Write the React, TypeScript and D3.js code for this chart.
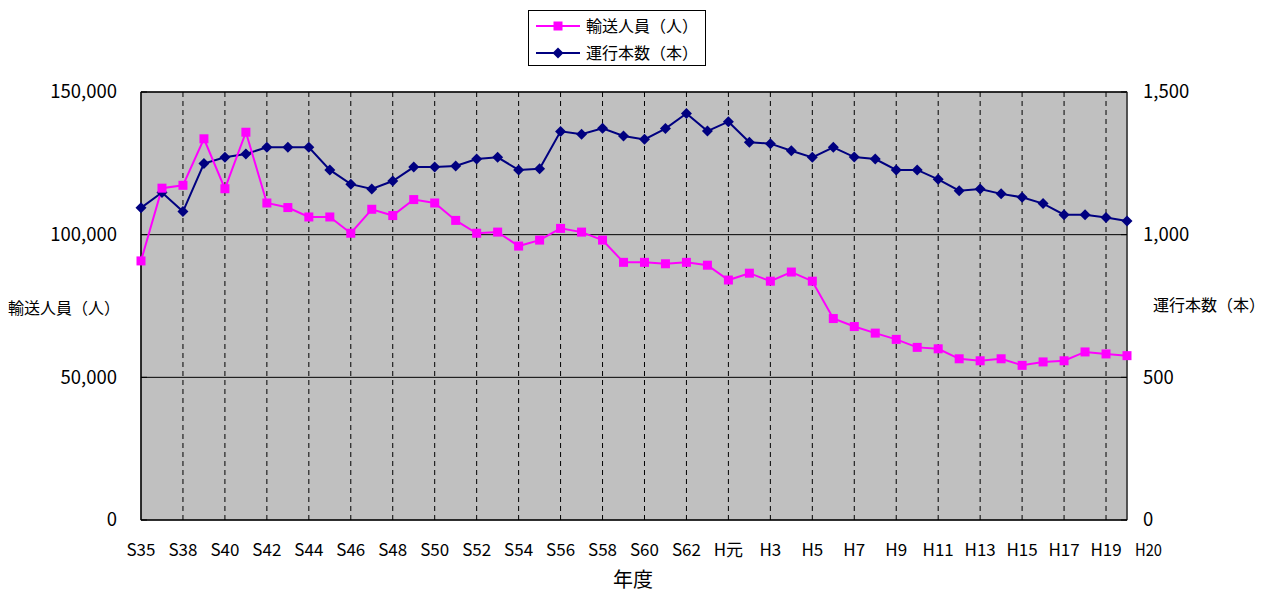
import React from 'react';
import * as d3 from 'd3';

// categories (fiscal years, Showa -> Heisei)
const years = [
  'S35', 'S37', 'S38', 'S39', 'S40', 'S41', 'S42', 'S43', 'S44', 'S45',
  'S46', 'S47', 'S48', 'S49', 'S50', 'S51', 'S52', 'S53', 'S54', 'S55',
  'S56', 'S57', 'S58', 'S59', 'S60', 'S61', 'S62', 'S63', 'H元', 'H2',
  'H3', 'H4', 'H5', 'H6', 'H7', 'H8', 'H9', 'H10', 'H11', 'H12',
  'H13', 'H14', 'H15', 'H16', 'H17', 'H18', 'H19', 'H20',
];

// 輸送人員(人) - left axis
const passengers = [
  90800, 116300, 117300, 133600, 116100, 135900, 111100, 109500, 106200, 106200,
  100500, 108900, 106700, 112300, 111100, 105000, 100500, 100900, 96000, 98100,
  102200, 100900, 98100, 90300, 90300, 89800, 90300, 89300, 84100, 86500,
  83700, 86900, 83700, 70600, 67800, 65500, 63300, 60500, 60000, 56500,
  55800, 56500, 54200, 55400, 55800, 58900, 58200, 57600,
];

// 運行本数(本) - right axis
const trains = [
  1094, 1148, 1081, 1249, 1271, 1283, 1306, 1306, 1306, 1227,
  1177, 1160, 1188, 1237, 1237, 1241, 1265, 1271, 1227, 1231,
  1362, 1352, 1373, 1346, 1334, 1372, 1425, 1363, 1396, 1324,
  1319, 1294, 1271, 1306, 1272, 1265, 1227, 1227, 1194, 1154,
  1160, 1143, 1131, 1109, 1070, 1070, 1060, 1048,
];

const leftTicks = [0, 50000, 100000, 150000];
const rightTicks = [0, 500, 1000, 1500];
const gridTicks = [50000, 100000];

const W = 1275, H = 594;
const plotL = 141, plotR = 1127, plotT = 92, plotB = 520;

const PINK = '#FF00FF';
const NAVY = '#000080';
const BG = '#C0C0C0';
const FONT = '"Noto Sans CJK JP", "Liberation Sans", sans-serif';

const fmt = d3.format(',');

export default function App() {
  const x = d3.scalePoint<string>().domain(years).range([plotL, plotR]);
  const yL = d3.scaleLinear().domain([0, 150000]).range([plotB, plotT]);
  const yR = d3.scaleLinear().domain([0, 1500]).range([plotB, plotT]);

  const linePass = d3.line<number>()
    .x((_, i) => x(years[i])!)
    .y(d => yL(d));
  const lineTrain = d3.line<number>()
    .x((_, i) => x(years[i])!)
    .y(d => yR(d));

  const diamond = (cx: number, cy: number, r: number) =>
    `M${cx},${cy - r}L${cx + r},${cy}L${cx},${cy + r}L${cx - r},${cy}Z`;

  const labelIdx = years.map((_, i) => i).filter(i => i % 2 === 0);
  const lastIdx = years.length - 1;

  return (
    <svg width={W} height={H} style={{ position: 'absolute', left: 0, top: 0, background: '#fff' }}
      fontFamily={FONT}>
      {/* plot background */}
      <rect x={plotL} y={plotT} width={plotR - plotL} height={plotB - plotT} fill={BG} stroke="#808080" />

      {/* vertical dashed grid */}
      {labelIdx.filter(i => i > 0).map(i => (
        <line key={'v' + i} x1={x(years[i])} x2={x(years[i])} y1={plotT} y2={plotB}
          stroke="#000" strokeWidth={1} strokeDasharray="5,4" />
      ))}

      {/* horizontal grid */}
      {gridTicks.map(t => (
        <line key={'h' + t} x1={plotL} x2={plotR} y1={yL(t)} y2={yL(t)} stroke="#000" strokeWidth={1} />
      ))}
      <line x1={plotL} x2={plotR} y1={plotT} y2={plotT} stroke="#000" strokeWidth={1.5} />

      {/* axes */}
      <line x1={plotL} x2={plotL} y1={plotT} y2={plotB} stroke="#000" strokeWidth={1.5} />
      <line x1={plotR} x2={plotR} y1={plotT} y2={plotB} stroke="#333" strokeWidth={1.5} />
      <line x1={plotL} x2={plotR} y1={plotB} y2={plotB} stroke="#000" strokeWidth={1.5} />
      {leftTicks.map(t => (
        <g key={'lt' + t}>
          <line x1={plotL} x2={plotL + 6} y1={yL(t)} y2={yL(t)} stroke="#000" />
          <text x={117} y={yL(t)} dy="0.35em" textAnchor="end" fontSize={18.5}>{fmt(t)}</text>
        </g>
      ))}
      {rightTicks.map(t => (
        <g key={'rt' + t}>
          <line x1={plotR - 6} x2={plotR} y1={yR(t)} y2={yR(t)} stroke="#000" />
          <text x={1143} y={yR(t)} dy="0.35em" textAnchor="start" fontSize={18.5}>{fmt(t)}</text>
        </g>
      ))}

      {/* category labels */}
      {labelIdx.map(i => (
        <text key={'c' + i} x={x(years[i])} y={550} dy="0.35em" textAnchor="middle" fontSize={17}>
          {years[i]}
        </text>
      ))}
      <text x={x(years[lastIdx])! + 8} y={550} dy="0.35em" textAnchor="start" fontSize={17}
        textLength={27} lengthAdjust="spacingAndGlyphs">{years[lastIdx]}</text>

      {/* axis titles */}
      <text x={8} y={308} dy="0.35em" fontSize={16}>輸送人員（人）</text>
      <text x={1153} y={305} dy="0.35em" fontSize={16}>運行本数（本）</text>
      <text x={633} y={580} dy="0.35em" textAnchor="middle" fontSize={20}>年度</text>

      {/* series lines */}
      <path d={lineTrain(trains)!} fill="none" stroke={NAVY} strokeWidth={2} />
      <path d={linePass(passengers)!} fill="none" stroke={PINK} strokeWidth={2} />
      {trains.map((v, i) => (
        <path key={'d' + i} d={diamond(x(years[i])!, yR(v), 5.5)} fill={NAVY} />
      ))}
      {passengers.map((v, i) => (
        <rect key={'s' + i} x={x(years[i])! - 4.5} y={yL(v) - 4.5} width={9} height={9} fill={PINK} />
      ))}

      {/* legend */}
      <g>
        <rect x={528.5} y={10.5} width={177} height={55} fill="#fff" stroke="#000" />
        <line x1={536} x2={580} y1={26} y2={26} stroke={PINK} strokeWidth={2} />
        <rect x={553.5} y={21.5} width={9} height={9} fill={PINK} />
        <text x={586} y={26} dy="0.35em" fontSize={16}>輸送人員（人）</text>
        <line x1={536} x2={580} y1={53} y2={53} stroke={NAVY} strokeWidth={2} />
        <path d={diamond(558, 53, 5.5)} fill={NAVY} />
        <text x={586} y={53} dy="0.35em" fontSize={16}>運行本数（本）</text>
      </g>
    </svg>
  );
}
